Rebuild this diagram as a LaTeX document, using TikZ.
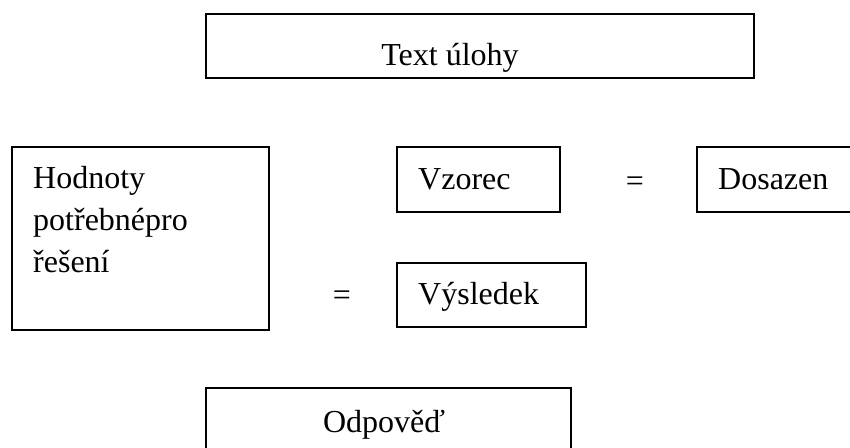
\documentclass[tikz,border=0pt]{standalone}
\usepackage{fontspec}
\setmainfont{Liberation Serif}
\usetikzlibrary{positioning}

\tikzset{
  box/.style={draw, line width=2pt, anchor=north west, inner sep=0pt},
  word/.style={font=\fontsize{32}{42}\selectfont, inner sep=0pt}
}

\begin{document}
\begin{tikzpicture}[x=1pt, y=-1pt]
  \useasboundingbox (0,0) rectangle (850,447);
  \clip (0,0) rectangle (850,447);

  \node[box, minimum width=548pt, minimum height=64pt] (task) at (205,13) {};
  \node[box, minimum width=257pt, minimum height=183pt] (values) at (11,146) {};
  \node[box, minimum width=163pt, minimum height=65pt] (formula) at (396,146) {};
  \node[box, minimum width=180pt, minimum height=65pt] (subst) at (696,146) {};
  \node[box, minimum width=189pt, minimum height=64pt] (result) at (396,262) {};
  \node[box, minimum width=365pt, minimum height=90pt] (answer) at (205,387) {};

  \node[word, anchor=base] (tasktext) at (450,65) {Text úlohy};
  \node[word, anchor=base west, align=left] (valuestext) at (33,272)
    {Hodnoty\\potřebnépro\\řešení};
  \node[word, anchor=base west] (formulatext) at (418,189) {Vzorec};
  \node[word, anchor=base] (eqone) at (635,191) {=};
  \node[word, anchor=base west] (substtext) at (718,189) {Dosazen};
  \node[word, anchor=base] (eqtwo) at (342,305) {=};
  \node[word, anchor=base west] (resulttext) at (418,304) {Výsledek};
  \node[word, anchor=base] (answertext) at (384,432) {Odpověď};

\end{tikzpicture}
\end{document}
